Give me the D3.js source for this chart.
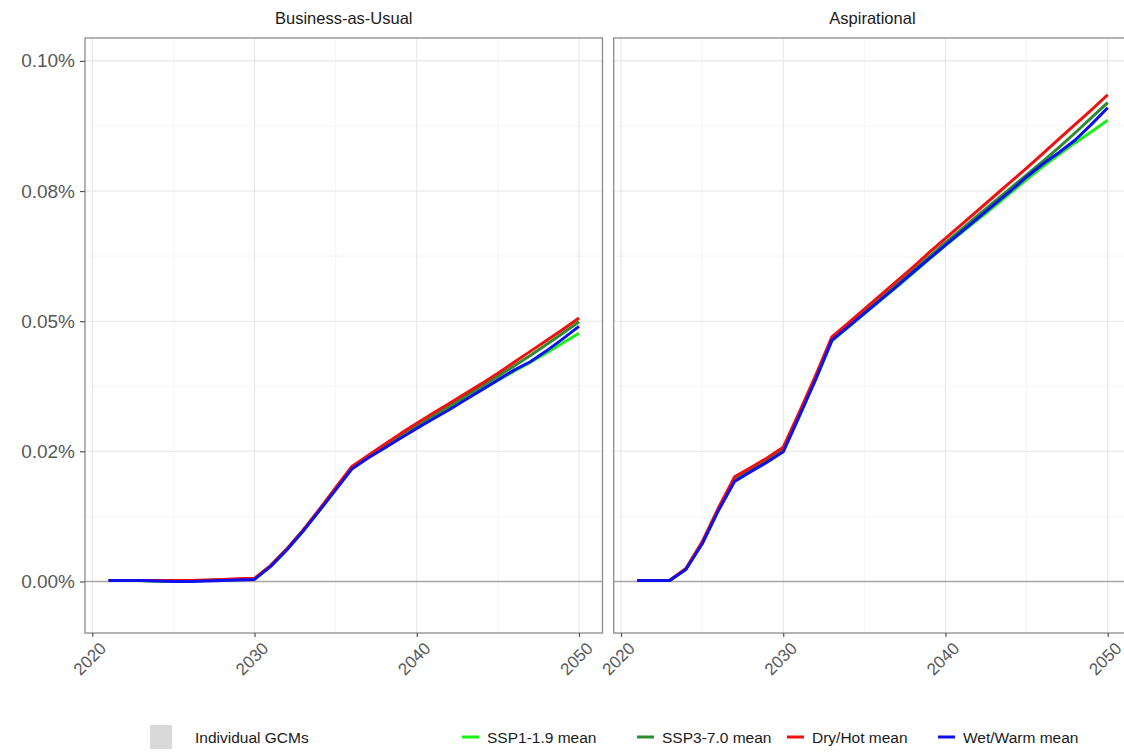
<!DOCTYPE html>
<html>
<head>
<meta charset="utf-8">
<script src="https://cdn.jsdelivr.net/npm/d3@7"></script>
<style>
  body { margin: 0; background: #fff; }
  svg { display: block; font-family: "Liberation Sans", Arial, sans-serif; }
</style>
</head>
<body>
<svg id="chart" width="1124" height="752"></svg>
<script>
// --- data ---------------------------------------------------------------
const years = [2021, 2022, 2023, 2024, 2025, 2026, 2027, 2028, 2029, 2030,
  2031, 2032, 2033, 2034, 2035, 2036, 2037, 2038, 2039, 2040,
  2041, 2042, 2043, 2044, 2045, 2046, 2047, 2048, 2049, 2050];

const panelTitles = ['Business-as-Usual', 'Aspirational'];
const seriesNames = ['SSP1-1.9 mean', 'SSP3-7.0 mean', 'Dry/Hot mean', 'Wet/Warm mean'];

// values are in percent (0.1 == 0.10%)
const bauSsp1 = [0.0002, 0.0002, 0.0002, 0.0001, 0.0001, 0.0001, 0.0002, 0.0003, 0.0004, 0.0005,
  0.0030, 0.0062, 0.0098, 0.0137, 0.0177, 0.0218, 0.0239, 0.0258, 0.0277, 0.0296,
  0.0314, 0.0332, 0.0350, 0.0368, 0.0386, 0.0404, 0.0421, 0.0439, 0.0458, 0.0477];
const bauSsp3 = [0.0002, 0.0002, 0.0002, 0.0001, 0.0001, 0.0001, 0.0002, 0.0003, 0.0004, 0.0005,
  0.0030, 0.0062, 0.0098, 0.0137, 0.0178, 0.0219, 0.0240, 0.0260, 0.0280, 0.0299,
  0.0318, 0.0337, 0.0356, 0.0375, 0.0394, 0.0414, 0.0434, 0.0455, 0.0477, 0.0499];
const bauDryHot = [0.0002, 0.0002, 0.0002, 0.0002, 0.0002, 0.0002, 0.0003, 0.0004, 0.0005, 0.0006,
  0.0031, 0.0063, 0.0099, 0.0139, 0.0180, 0.0221, 0.0242, 0.0263, 0.0284, 0.0304,
  0.0323, 0.0342, 0.0361, 0.0380, 0.0400, 0.0421, 0.0442, 0.0463, 0.0484, 0.0506];
const bauWetWarm = [0.0002, 0.0002, 0.0002, 0.0001, 0.0000, 0.0000, 0.0001, 0.0002, 0.0003, 0.0004,
  0.0029, 0.0061, 0.0097, 0.0136, 0.0176, 0.0216, 0.0237, 0.0256, 0.0275, 0.0294,
  0.0312, 0.0330, 0.0349, 0.0368, 0.0387, 0.0406, 0.0422, 0.0443, 0.0466, 0.0490];

const aspSsp1 = [0.0002, 0.0002, 0.0002, 0.0024, 0.0073, 0.0137, 0.0193, 0.0212, 0.0230, 0.0250,
  0.0318, 0.0388, 0.0462, 0.0488, 0.0514, 0.0540, 0.0566, 0.0592, 0.0619, 0.0645,
  0.0670, 0.0695, 0.0720, 0.0746, 0.0772, 0.0797, 0.0820, 0.0843, 0.0864, 0.0886];
const aspSsp3 = [0.0002, 0.0002, 0.0002, 0.0024, 0.0074, 0.0138, 0.0196, 0.0215, 0.0233, 0.0253,
  0.0321, 0.0391, 0.0465, 0.0491, 0.0517, 0.0544, 0.0570, 0.0597, 0.0624, 0.0651,
  0.0677, 0.0703, 0.0729, 0.0755, 0.0781, 0.0807, 0.0834, 0.0862, 0.0891, 0.0920];
const aspDryHot = [0.0002, 0.0002, 0.0002, 0.0025, 0.0076, 0.0141, 0.0201, 0.0219, 0.0237, 0.0258,
  0.0326, 0.0396, 0.0470, 0.0496, 0.0523, 0.0550, 0.0577, 0.0604, 0.0632, 0.0659,
  0.0686, 0.0713, 0.0740, 0.0767, 0.0794, 0.0822, 0.0850, 0.0878, 0.0906, 0.0935];
const aspWetWarm = [0.0002, 0.0002, 0.0002, 0.0023, 0.0072, 0.0136, 0.0192, 0.0211, 0.0229, 0.0249,
  0.0318, 0.0388, 0.0463, 0.0489, 0.0515, 0.0541, 0.0567, 0.0594, 0.0620, 0.0646,
  0.0672, 0.0698, 0.0724, 0.0750, 0.0777, 0.0802, 0.0824, 0.0848, 0.0878, 0.0910];

const xTickValues = [2020, 2030, 2040, 2050];
const xMinorValues = [2025, 2035, 2045];
const yTickValues = [0, 0.025, 0.05, 0.075, 0.1];
const yTickLabels = ['0.00%', '0.02%', '0.05%', '0.08%', '0.10%'];
const yMinorValues = [0.0125, 0.0375, 0.0625, 0.0875];

// --- layout -------------------------------------------------------------
const colors = ['#19f019', '#2e8b2e', '#ef1010', '#1010ee'];
const panelTop = 38;
const panelBottom = 633;
const panelWidth = 517.5;
const panelLefts = [85, 613.7];

const svg = d3.select('#chart');

const y = d3.scaleLinear()
  .domain([-0.0099, 0.1044])
  .range([panelBottom, panelTop]);

const panelSeries = [
  [bauSsp1, bauSsp3, bauDryHot, bauWetWarm],
  [aspSsp1, aspSsp3, aspDryHot, aspWetWarm]
];

panelTitles.forEach((title, i) => {
  const left = panelLefts[i];
  const x = d3.scaleLinear()
    .domain([2021 - 1.45, 2050 + 1.45])
    .range([left, left + panelWidth]);

  const g = svg.append('g').attr('class', 'panel');

  // grid (minor then major)
  g.selectAll('.xminor').data(xMinorValues).enter().append('line')
    .attr('x1', d => x(d)).attr('x2', d => x(d))
    .attr('y1', panelTop).attr('y2', panelBottom)
    .attr('stroke', '#f2f2f2').attr('stroke-width', 0.8);
  g.selectAll('.yminor').data(yMinorValues).enter().append('line')
    .attr('x1', left).attr('x2', left + panelWidth)
    .attr('y1', d => y(d)).attr('y2', d => y(d))
    .attr('stroke', '#f2f2f2').attr('stroke-width', 0.8);
  g.selectAll('.xmajor').data(xTickValues).enter().append('line')
    .attr('x1', d => x(d)).attr('x2', d => x(d))
    .attr('y1', panelTop).attr('y2', panelBottom)
    .attr('stroke', '#e6e6e6').attr('stroke-width', 1.1);
  g.selectAll('.ymajor').data(yTickValues).enter().append('line')
    .attr('x1', left).attr('x2', left + panelWidth)
    .attr('y1', d => y(d)).attr('y2', d => y(d))
    .attr('stroke', '#e6e6e6').attr('stroke-width', 1.1);

  // zero line
  g.append('line')
    .attr('x1', left).attr('x2', left + panelWidth)
    .attr('y1', y(0)).attr('y2', y(0))
    .attr('stroke', '#a6a6a6').attr('stroke-width', 1.6);

  // series lines
  const line = d3.line()
    .x((d, k) => x(years[k]))
    .y(d => y(d));

  g.selectAll('.series').data(panelSeries[i]).enter().append('path')
    .attr('d', d => line(d))
    .attr('fill', 'none')
    .attr('stroke', (d, k) => colors[k])
    .attr('stroke-width', 3)
    .attr('stroke-linejoin', 'round')
    .attr('stroke-linecap', 'butt');

  // border
  g.append('rect')
    .attr('x', left).attr('y', panelTop)
    .attr('width', panelWidth).attr('height', panelBottom - panelTop)
    .attr('fill', 'none').attr('stroke', '#8c8c8c').attr('stroke-width', 1.3);

  // x axis
  const xAxis = g.append('g')
    .attr('transform', `translate(0,${panelBottom})`)
    .call(d3.axisBottom(x).tickValues(xTickValues).tickFormat(d3.format('d'))
      .tickSize(4).tickSizeOuter(0));
  xAxis.select('.domain').remove();
  xAxis.selectAll('.tick line').attr('stroke', '#555').attr('stroke-width', 1.2);
  xAxis.selectAll('.tick text')
    .attr('fill', '#595959')
    .style('font-size', '17px')
    .attr('text-anchor', 'end')
    .attr('dy', null)
    .attr('transform', 'translate(6,8) rotate(-45)')
    .attr('y', 0).attr('x', 0)
    .attr('dominant-baseline', 'hanging');

  // strip title
  g.append('text')
    .attr('x', left + panelWidth / 2)
    .attr('y', 24)
    .attr('text-anchor', 'middle')
    .attr('fill', '#1a1a1a')
    .style('font-size', '16.5px')
    .text(title);

  if (i === 0) {
    const yAxis = g.append('g')
      .attr('transform', `translate(${left},0)`)
      .call(d3.axisLeft(y).tickValues(yTickValues)
        .tickFormat((d, k) => yTickLabels[k]).tickSize(5).tickSizeOuter(0));
    yAxis.select('.domain').remove();
    yAxis.selectAll('.tick line').attr('stroke', '#555').attr('stroke-width', 1.2);
    yAxis.selectAll('.tick text')
      .attr('fill', '#595959')
      .style('font-size', '19px')
      .attr('x', -10);
  }
});

// --- legend -------------------------------------------------------------
const legend = svg.append('g').attr('transform', 'translate(0,737)');

legend.append('rect')
  .attr('x', 150).attr('y', -12)
  .attr('width', 22).attr('height', 24)
  .attr('fill', '#d9d9d9');
legend.append('text')
  .attr('x', 195).attr('y', 6)
  .attr('fill', '#1a1a1a')
  .style('font-size', '15.5px')
  .text('Individual GCMs');

const legendX = [462, 637, 787, 938];
const item = legend.selectAll('.item').data(seriesNames).enter().append('g')
  .attr('transform', (d, k) => `translate(${legendX[k]},0)`);
item.append('line')
  .attr('x1', 0).attr('x2', 17)
  .attr('y1', 0).attr('y2', 0)
  .attr('stroke', (d, k) => colors[k])
  .attr('stroke-width', 3);
item.append('text')
  .attr('x', 25).attr('y', 6)
  .attr('fill', '#1a1a1a')
  .style('font-size', '15.5px')
  .text(d => d);
</script>
</body>
</html>
